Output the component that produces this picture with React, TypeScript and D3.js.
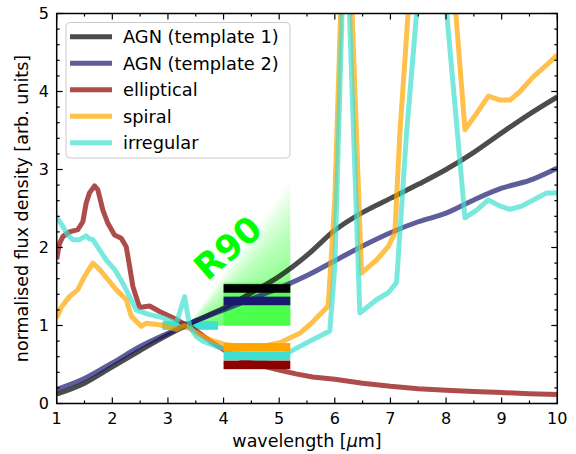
import React from "react";
import * as d3 from "d3";

// ---------- data ----------
const agn1X = [1, 1.5, 2, 2.5, 3, 3.5, 4, 4.5, 5, 5.5, 6, 6.5, 7, 7.5, 8, 8.5, 9, 9.5, 10];
const agn1Y = [0.12, 0.26, 0.47, 0.68, 0.88, 1.06, 1.22, 1.42, 1.63, 1.9, 2.22, 2.45, 2.63, 2.81, 3.0, 3.22, 3.47, 3.71, 3.93];

const agn2X = [1, 1.5, 2, 2.5, 3, 3.5, 4, 4.5, 5, 5.5, 6, 6.5, 7, 7.5, 8, 8.5, 9, 9.5, 10];
const agn2Y = [0.18, 0.32, 0.52, 0.73, 0.9, 1.06, 1.2, 1.34, 1.48, 1.64, 1.83, 2.02, 2.19, 2.33, 2.44, 2.61, 2.76, 2.86, 3.02];

const ellX = [1, 1.05, 1.11, 1.23, 1.38, 1.47, 1.53, 1.59, 1.68, 1.74, 1.83, 1.92, 2.04, 2.16, 2.25, 2.31, 2.37, 2.49, 2.67, 2.85, 3.09, 3.27, 3.39, 3.57, 3.8, 4.0, 4.3, 4.6, 5.0, 5.3, 5.6, 6, 6.5, 7, 7.5, 8, 8.5, 9, 9.5, 10];
const ellY = [1.85, 2.05, 2.14, 2.2, 2.23, 2.33, 2.57, 2.7, 2.79, 2.74, 2.48, 2.31, 2.16, 2.12, 2.01, 1.76, 1.5, 1.23, 1.25, 1.18, 1.1, 1.03, 0.99, 0.9, 0.78, 0.69, 0.58, 0.5, 0.43, 0.38, 0.34, 0.31, 0.26, 0.22, 0.19, 0.17, 0.155, 0.14, 0.125, 0.115];

const spX = [1, 1.08, 1.23, 1.38, 1.5, 1.65, 1.77, 1.92, 2.07, 2.25, 2.34, 2.52, 2.61, 2.85, 3.15, 3.3, 3.57, 3.75, 4.0, 4.4, 4.7, 5.01, 5.37, 5.61, 5.88, 6.0, 6.2, 6.48, 6.75, 6.96, 7.08, 7.17, 7.5, 7.9, 8.34, 8.55, 8.76, 8.97, 9.15, 9.33, 9.57, 9.81, 10];
const spY = [1.1, 1.23, 1.37, 1.46, 1.63, 1.8, 1.72, 1.59, 1.46, 1.33, 1.12, 0.99, 1.03, 1.01, 0.95, 1.0, 0.88, 0.82, 0.76, 0.72, 0.73, 0.78, 0.9, 1.05, 1.25, 2.61, 7.2, 1.67, 1.84, 2.01, 2.19, 3.47, 6.9, 7.5, 3.51, 3.72, 3.94, 3.89, 3.89, 4.0, 4.19, 4.34, 4.47];

const irX = [1, 1.11, 1.2, 1.29, 1.41, 1.53, 1.59, 1.65, 1.77, 1.89, 2.04, 2.19, 2.31, 2.43, 2.49, 2.67, 2.91, 3.15, 3.3, 3.39, 3.51, 3.63, 3.87, 4.0, 4.41, 4.6, 5.07, 5.31, 5.61, 5.91, 6.0, 6.19, 6.45, 6.75, 6.96, 7.11, 7.29, 7.6, 7.85, 8.34, 8.55, 8.76, 8.97, 9.15, 9.36, 9.57, 9.81, 10];
const irY = [2.39, 2.27, 2.16, 2.1, 2.1, 2.15, 2.11, 2.1, 1.97, 1.84, 1.72, 1.54, 1.37, 1.2, 1.18, 1.14, 1.1, 1.03, 1.37, 0.99, 0.86, 0.8, 0.73, 0.71, 0.61, 0.56, 0.61, 0.71, 0.82, 0.93, 1.76, 6.5, 1.16, 1.33, 1.42, 1.55, 3.47, 6.1, 6.3, 2.38, 2.48, 2.61, 2.53, 2.49, 2.53, 2.61, 2.7, 2.7];

const seriesNames = ["AGN (template 1)", "AGN (template 2)", "elliptical", "spiral", "irregular"];
const seriesColors = ["#000000", "#191970", "#8b0000", "#ffa500", "#40e0d0"];

// R90 band values (x range 4–5.2)
const bandColors = ["#000000", "#191970", "#ffa500", "#40e0d0", "#8b0000"];
const bandValues = [1.475, 1.315, 0.72, 0.61, 0.495];
const bandX = [4, 5.2];
// reference (normalisation) band
const refBandX = [2.9, 3.9];
const refBandValue = 1.0;

const xTicks = [1, 2, 3, 4, 5, 6, 7, 8, 9, 10];
const yTicks = [0, 1, 2, 3, 4, 5];

const FONT = "DejaVu Sans, Verdana, sans-serif";

export default function App() {
  const W = 576, H = 454;
  const x = d3.scaleLinear().domain([1, 10]).range([56.7, 557.3]);
  const y = d3.scaleLinear().domain([0, 5]).range([403.5, 13.5]);
  const x0 = x(1), x1 = x(10), y0 = y(0), y1 = y(5);

  const series = [
    { xs: agn1X, ys: agn1Y, curve: d3.curveMonotoneX },
    { xs: agn2X, ys: agn2Y, curve: d3.curveMonotoneX },
    { xs: ellX, ys: ellY, curve: d3.curveLinear },
    { xs: spX, ys: spY, curve: d3.curveLinear },
    { xs: irX, ys: irY, curve: d3.curveLinear },
  ];

  const bandH = y(0) - y(0.11);

  // green fan (decorative gradient)
  const apex: [number, number] = [3.35, 1.0];
  const fanTops = d3.range(1.0, 2.9, 0.04);

  const minorX = d3.range(1.5, 10, 1);
  const minorY = d3.range(0, 5.001, 0.2).filter((v) => Math.abs(v - Math.round(v)) > 1e-6);

  return (
    <svg width={W} height={H} style={{ position: "absolute", left: 0, top: 0, background: "#fff" }} fontFamily={FONT}>
      <defs>
        <clipPath id="plotclip">
          <rect x={x0} y={y1} width={x1 - x0} height={y0 - y1} />
        </clipPath>
      </defs>
      <rect x={0} y={0} width={W} height={H} fill="#fff" />

      <g clipPath="url(#plotclip)">
        {/* green fan */}
        {fanTops.map((t, i) => (
          <polygon
            key={"fan" + i}
            points={`${x(apex[0])},${y(apex[1])} ${x(bandX[1])},${y(1.0)} ${x(bandX[1])},${y(t)}`}
            fill="#00ff00"
            fillOpacity={0.016}
          />
        ))}
        <rect
          x={x(bandX[0])}
          y={y(1.55)}
          width={x(bandX[1]) - x(bandX[0])}
          height={y(1.0) - y(1.55)}
          fill="#22ff22"
          fillOpacity={0.5}
        />
        {/* reference band */}
        <rect
          x={x(refBandX[0])}
          y={y(refBandValue) - bandH / 2}
          width={x(refBandX[1]) - x(refBandX[0])}
          height={bandH}
          fill="#40e0d0"
        />
        {/* curves */}
        {series.map((s, i) => {
          const line = d3
            .line<number>()
            .x((_, k) => x(s.xs[k]))
            .y((v) => y(v))
            .curve(s.curve);
          return (
            <path
              key={"s" + i}
              d={line(s.ys) || ""}
              fill="none"
              stroke={seriesColors[i]}
              strokeOpacity={0.7}
              strokeWidth={5}
              strokeLinejoin="round"
              strokeLinecap="butt"
            />
          );
        })}
        {/* R90 bands */}
        {bandValues.map((v, i) => (
          <rect
            key={"b" + i}
            x={x(bandX[0])}
            y={y(v) - bandH / 2}
            width={x(bandX[1]) - x(bandX[0])}
            height={bandH}
            fill={bandColors[i]}
          />
        ))}
      </g>

      {/* R90 label */}
      <text
        transform={`translate(${228},${248}) rotate(-41)`}
        textAnchor="middle"
        dominantBaseline="central"
        fontWeight="bold"
        fontSize={35}
        fill="#00ff00"
      >
        R90
      </text>

      {/* legend */}
      <g>
        <rect x={66} y={22.5} width={224} height={135.5} rx={4} fill="#fff" fillOpacity={0.8} stroke="#cccccc" strokeWidth={1} />
        {seriesNames.map((n, i) => {
          const yy = 36.7 + i * 26.5;
          return (
            <g key={"lg" + i}>
              <line x1={70} x2={112} y1={yy} y2={yy} stroke={seriesColors[i]} strokeOpacity={0.7} strokeWidth={5} />
              <text x={123} y={yy} dominantBaseline="central" fontSize={17.8} fill="#000">
                {n}
              </text>
            </g>
          );
        })}
      </g>

      {/* ticks */}
      <g stroke="#000" strokeWidth={1.2}>
        {xTicks.map((t) => (
          <g key={"xt" + t}>
            <line x1={x(t)} x2={x(t)} y1={y0} y2={y0 - 6} />
            <line x1={x(t)} x2={x(t)} y1={y1} y2={y1 + 6} />
          </g>
        ))}
        {minorX.map((t) => (
          <g key={"xm" + t}>
            <line x1={x(t)} x2={x(t)} y1={y0} y2={y0 - 3} />
            <line x1={x(t)} x2={x(t)} y1={y1} y2={y1 + 3} />
          </g>
        ))}
        {yTicks.map((t) => (
          <g key={"yt" + t}>
            <line x1={x0} x2={x0 + 6} y1={y(t)} y2={y(t)} />
            <line x1={x1} x2={x1 - 6} y1={y(t)} y2={y(t)} />
          </g>
        ))}
        {minorY.map((t) => (
          <g key={"ym" + t}>
            <line x1={x0} x2={x0 + 3} y1={y(t)} y2={y(t)} />
            <line x1={x1} x2={x1 - 3} y1={y(t)} y2={y(t)} />
          </g>
        ))}
      </g>
      <rect x={x0} y={y1} width={x1 - x0} height={y0 - y1} fill="none" stroke="#000" strokeWidth={1.5} />

      {/* tick labels */}
      {xTicks.map((t) => (
        <text key={"xl" + t} x={x(t)} y={424} textAnchor="middle" fontSize={16} fill="#000">
          {t}
        </text>
      ))}
      {yTicks.map((t) => (
        <text key={"yl" + t} x={49} y={y(t)} textAnchor="end" dominantBaseline="central" fontSize={16} fill="#000">
          {t}
        </text>
      ))}

      {/* axis labels */}
      <text x={(x0 + x1) / 2} y={447} textAnchor="middle" fontSize={17.5} fill="#000">
        wavelength [<tspan fontStyle="italic">μ</tspan>m]
      </text>
      <text
        transform={`translate(${22},${(y0 + y1) / 2}) rotate(-90)`}
        textAnchor="middle"
        dominantBaseline="central"
        fontSize={17.5}
        fill="#000"
      >
        normalised flux density [arb. units]
      </text>
    </svg>
  );
}
